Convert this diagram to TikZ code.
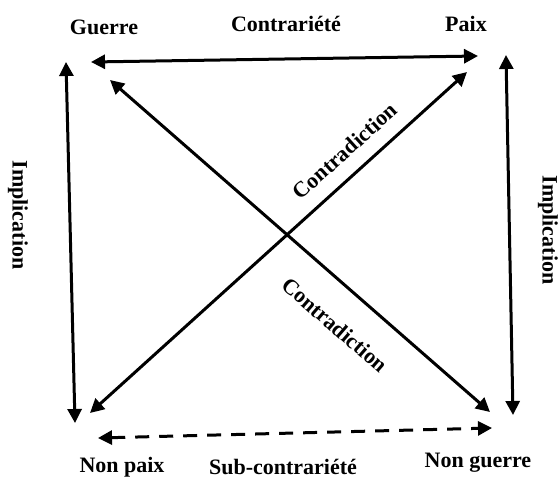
\documentclass[tikz,border=0pt]{standalone}
\usepackage{fontspec}
\setmainfont{Liberation Serif}
\usetikzlibrary{arrows.meta, positioning}

\begin{document}
\begin{tikzpicture}[x=0.5pt, y=-0.5pt, >={Triangle[length=7pt, width=7pt]}]
    % Styles
    \tikzstyle{term} = [font=\fontsize{11}{13}\selectfont\bfseries, inner sep=1pt]
    \tikzstyle{rel} = [font=\fontsize{11}{13}\selectfont\bfseries, inner sep=1pt]
    \tikzstyle{line} = [draw, <->, line width=1.5pt]
    \tikzstyle{dline} = [draw, <->, line width=1.5pt, dash pattern=on 7pt off 5pt]

    \useasboundingbox (0,0) rectangle (558,477);

    % Terms
    \node [term] (guerre) at (104,27) {Guerre};
    \node [term] (paix) at (466,24) {Paix};
    \node [term] (nonpaix) at (122,467) {Non paix};
    \node [term] (nonguerre) at (478,463) {Non guerre};

    % Arrow ends
    \coordinate (topL) at (91,62);
    \coordinate (topR) at (478,56);
    \coordinate (leftT) at (66,62);
    \coordinate (leftB) at (75,423);
    \coordinate (rightT) at (506,55);
    \coordinate (rightB) at (513,415);
    \coordinate (diagGT) at (110,80);
    \coordinate (diagGB) at (490,412);
    \coordinate (diagPB) at (90,413);
    \coordinate (diagPT) at (467,72);
    \coordinate (botL) at (98,438);
    \coordinate (botR) at (492,428);

    % Relations
    \path [line] (topL) -- (topR);
    \path [line] (leftT) -- (leftB);
    \path [line] (rightT) -- (rightB);
    \path [line] (diagGT) -- (diagGB);
    \path [line] (diagPB) -- (diagPT);
    \path [dline] (botL) -- (botR);

    % Labels
    \node [rel] (contr) at (286,24) {Contrariété};
    \node [rel] (subcontr) at (283,467) {Sub-contrariété};
    \node [rel, rotate=-90] (implL) at (18,215) {Implication};
    \node [rel, rotate=-90] (implR) at (548,230) {Implication};
    \node [rel, rotate=42] (contradU) at (345,151) {Contradiction};
    \node [rel, rotate=-41] (contradD) at (335,325) {Contradiction};
\end{tikzpicture}
\end{document}
